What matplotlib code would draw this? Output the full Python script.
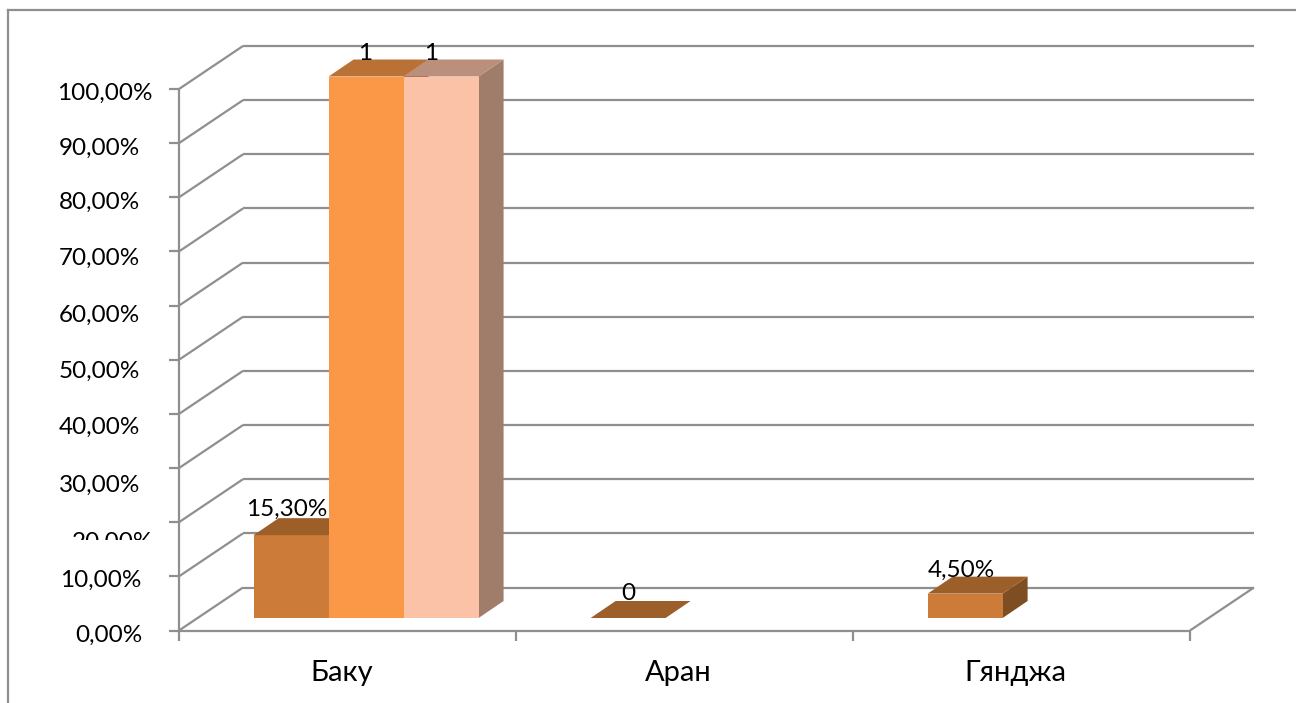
import matplotlib
matplotlib.use("Agg")
import matplotlib.pyplot as plt
from matplotlib.patches import Polygon
from matplotlib.transforms import Affine2D, Bbox
from matplotlib.lines import Line2D

# ---- data ----
categories = ["Баку", "Аран", "Гянджа"]
series_a = [15.3, 0.0, 4.5]
series_b = [100.0, None, None]
series_c = [100.0, None, None]
labels_a = ["15,30%", "0", "4,50%"]
labels_b = ["1", None, None]
labels_c = ["1", None, None]
y_ticks = [0, 10, 20, 30, 40, 50, 60, 70, 80, 90, 100]
y_tick_labels = ["0,00%", "10,00%", "20,00%", "30,00%", "40,00%", "50,00%",
                 "60,00%", "70,00%", "80,00%", "90,00%", "100,00%"]

# ---- style / layout (pixels) ----
W, H = 1296, 703
plt.rcParams["font.family"] = ["Lato", "Open Sans", "DejaVu Sans"]
GRID = "#8f8f8f"
LEFT, RIGHT, TOP, BOTTOM = 179, 1190, 89, 630.5
WALL = (64, 43)
BASE = (18.6, 12.5)
DEPTH = (25, 17)
BAR_W = 0.2225
TICK_FS = 17.5
DATA_FS = 17.5
CAT_FS = 21
LW = 1.6

fig = plt.figure(figsize=(W / 100, H / 100), dpi=100, facecolor="white")
ax = fig.add_axes([LEFT / W, 1 - BOTTOM / H, (RIGHT - LEFT) / W, (BOTTOM - TOP) / H])
ax.set_xlim(0, len(categories))
ax.set_ylim(0, 100)
ax.axis("off")

UX = DEPTH[0] / ((RIGHT - LEFT) / len(categories))
UY = DEPTH[1] / ((BOTTOM - TOP) / 100)


def shifted(dx, dy):
    return ax.transData + Affine2D().translate(dx, dy)


wall = shifted(*WALL)
base = shifted(*BASE)
kw = dict(color=GRID, lw=LW, clip_on=False, solid_capstyle="butt")

# chart frame
fig.add_artist(Line2D([7.5 / W, 7.5 / W], [0, 1 - 9.5 / H], color=GRID, lw=LW))
fig.add_artist(Line2D([7.5 / W, 1], [1 - 9.5 / H, 1 - 9.5 / H], color=GRID, lw=LW))

# walls, floor and ticks
for t in y_ticks:
    ax.plot([0, len(categories)], [t, t], transform=wall, **kw)
    p0 = ax.transData.transform((0, t))
    ax.add_line(Line2D([p0[0], p0[0] + WALL[0]], [p0[1], p0[1] + WALL[1]], transform=None, **kw))
    ax.add_line(Line2D([p0[0] - 10, p0[0]], [p0[1], p0[1]], transform=None, **kw))
ax.plot([0, 0], [0, 100], **kw)
ax.plot([0, len(categories)], [0, 0], **kw)
p = ax.transData.transform((len(categories), 0))
ax.add_line(Line2D([p[0], p[0] + WALL[0]], [p[1], p[1] + WALL[1]], transform=None, **kw))
for i in range(len(categories) + 1):
    p = ax.transData.transform((i, 0))
    ax.add_line(Line2D([p[0], p[0]], [p[1] - 10, p[1]], transform=None, **kw))


def bar3d(x, value, front, top, side):
    ax.bar(x, value, BAR_W, align="edge", color=front, transform=base, clip_on=False, zorder=3)
    ax.add_patch(Polygon(
        [(x, value), (x + BAR_W, value), (x + BAR_W + UX, value + UY), (x + UX, value + UY)],
        closed=True, facecolor=top, edgecolor="none", transform=base, clip_on=False, zorder=3))
    if value > 0:
        ax.add_patch(Polygon(
            [(x + BAR_W, 0), (x + BAR_W + UX, UY), (x + BAR_W + UX, value + UY), (x + BAR_W, value)],
            closed=True, facecolor=side, edgecolor="none", transform=base, clip_on=False, zorder=2.9))


start = (1 - 3 * BAR_W) / 2
palette = [("#CC7B38", "#9C5F2A", "#7F4D22"),
           ("#FA9848", "#BA7135", "#9E6233"),
           ("#FBC2A8", "#BA8F7B", "#A07C6B")]
label_shift = [[(-4, 26), (0, 24), (-4, 23)],
               [(-1, 23), None, None],
               [(-10, 23), None, None]]
for s, (vals, labs) in enumerate(zip((series_a, series_b, series_c), (labels_a, labels_b, labels_c))):
    for i, (v, lab) in enumerate(zip(vals, labs)):
        if v is None:
            continue
        x = i + start + s * BAR_W
        bar3d(x, v, *palette[s])
        dx, dy = label_shift[s][i]
        ax.text(x + BAR_W / 2, v, lab, transform=base + Affine2D().translate(dx, dy),
                ha="center", va="center", fontsize=DATA_FS, color="black", zorder=5, clip_on=False)

# y tick labels: the reference's labels are not aligned with their ticks
label_baselines = [641.5, 587, 548.5, 492, 434, 378, 322, 265, 209, 155, 100]
label_lefts = [75, 60, 72, 59, 59, 59, 59, 59, 59, 59, 57]
for txt, row, left in zip(y_tick_labels, label_baselines, label_lefts):
    t = fig.text(left / W, 1 - row / H, txt, ha="left", va="baseline", fontsize=TICK_FS, color="black")
    if txt == "20,00%":
        t.set_clip_box(Bbox.from_extents(0, H - 540, W, H - 525))
        t.set_clip_on(True)

for i, c in enumerate(categories):
    ax.annotate(c, (i + 0.5, 0), xytext=(-6, -42), textcoords="offset pixels",
                ha="center", va="center", fontsize=CAT_FS, annotation_clip=False)

fig.savefig("out.png", dpi=100)
